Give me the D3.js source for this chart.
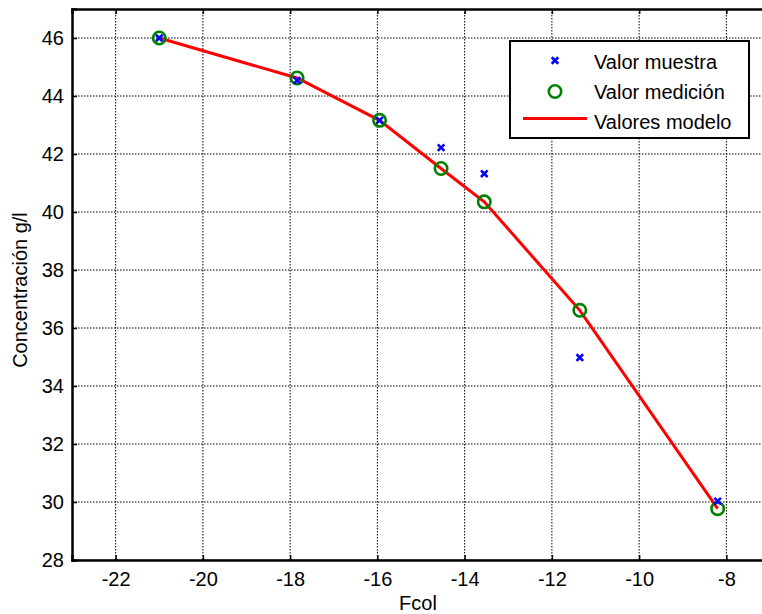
<!DOCTYPE html>
<html lang="es">

<head>
    <meta charset="UTF-8">
    <script src="https://cdnjs.cloudflare.com/ajax/libs/d3/7.8.5/d3.min.js"></script>
    <title>Concentración vs Fcol</title>
    <style>
        body { margin: 0; background: #fff; }
        svg { display: block; font-family: "Liberation Sans", Arial, sans-serif; }
    </style>
</head>

<body>
    <svg width="762" height="614"></svg>
    <script>
        // datos
        const fcol = [-21, -17.84, -15.95, -14.54, -13.55, -11.36, -8.2]
        const muestra = [46, 44.54, 43.16, 42.22, 41.32, 34.98, 30.03]
        const medicion = [46, 44.62, 43.16, 41.5, 40.35, 36.61, 29.77]
        const modelo = [46, 44.62, 43.16, 41.5, 40.35, 36.61, 29.77]
        const xTicks = [-22, -20, -18, -16, -14, -12, -10, -8]
        const yTicks = [28, 30, 32, 34, 36, 38, 40, 42, 44, 46]
        const legendLabels = ["Valor muestra", "Valor medición", "Valores modelo"]

        const svg = d3.select("svg")
        const mLeft = 72, mTop = 9, mBottom = 560, mRight = 770
        const fontSize = "20px"

        const x = d3.scaleLinear().domain([-23, -7]).range([mLeft, mRight])
        const y = d3.scaleLinear().domain([28, 47]).range([mBottom, mTop])

        // rejilla punteada
        const grid = svg.append("g")
        grid.selectAll("line.gx")
            .data(xTicks)
            .enter()
            .append("line")
            .attr("x1", d => x(d)).attr("x2", d => x(d))
            .attr("y1", mTop).attr("y2", mBottom)
            .style("stroke", "#000").style("stroke-width", 1)
            .style("stroke-dasharray", "1.5,1.5")
        grid.selectAll("line.gy")
            .data(yTicks)
            .enter()
            .append("line")
            .attr("x1", mLeft).attr("x2", mRight)
            .attr("y1", d => y(d)).attr("y2", d => y(d))
            .style("stroke", "#000").style("stroke-width", 1)
            .style("stroke-dasharray", "1.5,1.5")

        // ejes (guion normal como signo menos)
        const fmt = d => String(d)
        const xAxis = svg.append("g")
            .attr("transform", `translate(0,${mBottom})`)
            .call(d3.axisBottom(x).tickValues(xTicks).tickSize(-5).tickPadding(12).tickFormat(fmt))
        const yAxis = svg.append("g")
            .attr("transform", `translate(${mLeft},0)`)
            .call(d3.axisLeft(y).tickValues(yTicks).tickSize(-5).tickPadding(8).tickFormat(fmt))
        const xTop = svg.append("g")
            .attr("transform", `translate(0,${mTop})`)
            .call(d3.axisTop(x).tickValues(xTicks).tickSize(-5).tickFormat(""))

        for (const ax of [xAxis, yAxis, xTop]) {
            ax.select(".domain").style("stroke", "#000").style("stroke-width", 2.5)
            ax.selectAll(".tick line").style("stroke", "#000").style("stroke-width", 1.5)
            ax.selectAll("text")
                .style("font-family", "Liberation Sans, Arial, sans-serif")
                .style("font-size", fontSize).style("fill", "#000")
        }

        // linea del modelo
        const pts = fcol.map((f, i) => [f, modelo[i]])
        svg.append("path")
            .datum(pts)
            .attr("d", d3.line().x(d => x(d[0])).y(d => y(d[1])))
            .style("fill", "none").style("stroke", "#ff0000").style("stroke-width", 3)

        // circulos de medicion
        svg.selectAll("circle.med")
            .data(fcol)
            .enter()
            .append("circle")
            .attr("cx", d => x(d))
            .attr("cy", (d, i) => y(medicion[i]))
            .attr("r", 6.2)
            .style("fill", "none").style("stroke", "#008000").style("stroke-width", 2.6)

        // cruces de muestra
        const cross = d3.symbol().type(d3.symbolX).size(30)
        svg.selectAll("path.mu")
            .data(fcol)
            .enter()
            .append("path")
            .attr("d", cross)
            .attr("transform", (d, i) => `translate(${x(d)},${y(muestra[i])})`)
            .style("stroke", "#0000ff").style("stroke-width", 2.6).style("fill", "none")

        // etiquetas
        svg.append("text")
            .attr("x", 418).attr("y", 610)
            .style("text-anchor", "middle").style("font-size", fontSize)
            .text("Fcol")
        svg.append("text")
            .attr("transform", "translate(27,290) rotate(-90)")
            .style("text-anchor", "middle").style("font-size", fontSize)
            .text("Concentración g/l")

        // leyenda
        const leg = svg.append("g")
        leg.append("rect")
            .attr("x", 510).attr("y", 41).attr("width", 239).attr("height", 97)
            .style("fill", "#fff").style("stroke", "#000").style("stroke-width", 2)
        const markRows = [60.5, 91.5, 118.5]
        const textRows = [68.5, 98.5, 128.5]
        leg.append("path")
            .attr("d", cross)
            .attr("transform", `translate(555,${markRows[0]})`)
            .style("stroke", "#0000ff").style("stroke-width", 2.6)
        leg.append("circle")
            .attr("cx", 555).attr("cy", markRows[1]).attr("r", 6.2)
            .style("fill", "none").style("stroke", "#008000").style("stroke-width", 2.6)
        leg.append("line")
            .attr("x1", 523).attr("x2", 587).attr("y1", markRows[2]).attr("y2", markRows[2])
            .style("stroke", "#ff0000").style("stroke-width", 3)
        leg.selectAll("text")
            .data(legendLabels)
            .enter()
            .append("text")
            .attr("x", 594)
            .attr("y", (d, i) => textRows[i])
            .style("font-size", fontSize)
            .text(d => d)
    </script>
</body>

</html>
